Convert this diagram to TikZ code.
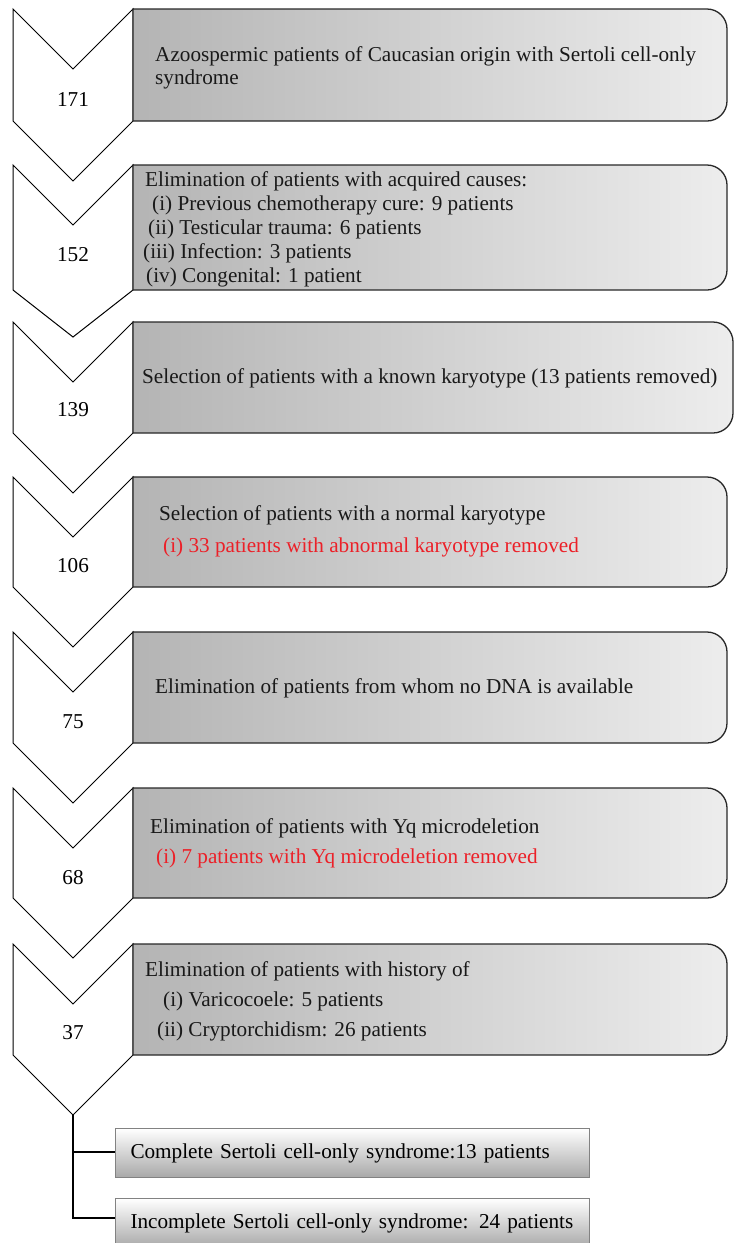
\documentclass[tikz,border=0pt]{standalone}
\usepackage{fontspec}
\setmainfont{Liberation Serif}
\definecolor{boxL}{RGB}{180,180,180}
\definecolor{boxR}{RGB}{237,237,237}
\definecolor{boxline}{RGB}{40,40,40}
\definecolor{redtxt}{RGB}{236,32,40}
\definecolor{botline}{RGB}{130,130,130}
\definecolor{botB}{RGB}{168,168,168}
\tikzset{
  chev/.style={draw=black, fill=white, line width=1pt, line join=miter},
  rowbox/.style={draw=boxline, line width=1.3pt, left color=boxL, right color=boxR},
  txt/.style={anchor=base west, inner sep=0pt, font=\fontsize{21.2}{25}\selectfont, text=black!90},
  redline/.style={txt, text=redtxt},
  num/.style={anchor=base, inner sep=0pt, font=\fontsize{21.2}{25}\selectfont},
  botbox/.style={draw=botline, line width=1pt, top color=white, bottom color=botB,
    minimum width=474pt, minimum height=49pt, anchor=north west, inner xsep=15pt,
    text width=444pt, align=left, font=\fontsize{21.2}{25}\selectfont},
  conn/.style={draw=black, line width=1.1pt}
}
\newcommand\chevshape[3]{% top, bottom, tip depth
  \draw[chev] (13,#1) -- (73,{#1+60}) -- (133,#1) -- (133,#2) -- (73,{#2+#3}) -- (13,#2) -- cycle;}
\newcommand\boxshape[3]{% top, bottom, right
  \path[rowbox] (133,#1) -- ({#3-20},#1) arc[start angle=-90,end angle=0,radius=20]
    -- (#3,{#2-20}) arc[start angle=0,end angle=90,radius=20] -- (133,#2) -- cycle;}
\begin{document}
\begin{tikzpicture}[x=1pt,y=-1pt]
\useasboundingbox (0,0) rectangle (734,1243);
% row 1
\chevshape{9}{121}{60}
\boxshape{9}{121}{727}
\node[num] (n1) at (73,106) {171};
\node[txt] (t1a) at (155,61) {Azoospermic patients of Caucasian origin with Sertoli cell-only};
\node[txt] (t1b) at (155,84) {syndrome};
% row 2
\chevshape{165}{290}{47}
\boxshape{165}{290}{727}
\node[num] (n2) at (73,261) {152};
\node[txt] (t2a) at (145,186) {Elimination of patients with acquired causes:};
\node[txt] (t2b) at (152,210) {(i) Previous chemotherapy cure: 9 patients};
\node[txt] (t2c) at (148,234) {(ii) Testicular trauma: 6 patients};
\node[txt] (t2d) at (143,258) {(iii) Infection: 3 patients};
\node[txt] (t2e) at (146,282) {(iv) Congenital: 1 patient};
% row 3
\chevshape{322}{433}{60}
\boxshape{322}{433}{733}
\node[num] (n3) at (73,416) {139};
\node[txt] (t3a) at (142,383) {Selection of patients with a known karyotype (13 patients removed)};
% row 4
\chevshape{477}{587}{60}
\boxshape{477}{587}{727}
\node[num] (n4) at (73,572) {106};
\node[txt] (t4a) at (159,520) {Selection of patients with a normal karyotype};
\node[redline] (t4b) at (163,552) {(i) 33 patients with abnormal karyotype removed};
% row 5
\chevshape{632}{743}{60}
\boxshape{632}{743}{727}
\node[num] (n5) at (73,728) {75};
\node[txt] (t5a) at (155,693) {Elimination of patients from whom no DNA is available};
% row 6
\chevshape{788}{898}{60}
\boxshape{788}{898}{727}
\node[num] (n6) at (73,884) {68};
\node[txt] (t6a) at (150,833) {Elimination of patients with Yq microdeletion};
\node[redline] (t6b) at (156,863) {(i) 7 patients with Yq microdeletion removed};
% row 7
\chevshape{944}{1055}{60}
\boxshape{944}{1055}{727}
\node[num] (n7) at (73,1039) {37};
\node[txt] (t7a) at (145,976) {Elimination of patients with history of};
\node[txt] (t7b) at (163,1006) {(i) Varicocoele: 5 patients};
\node[txt] (t7c) at (157,1036) {(ii) Cryptorchidism: 26 patients};
% bottom branches
\node[botbox] (c1) at (115,1128) {Complete Sertoli cell-only syndrome:13 patients};
\node[botbox] (c2) at (115,1198) {Incomplete Sertoli cell-only syndrome: 24 patients};
\coordinate (tip) at (73,1115);
\coordinate (j1) at (73,1152);
\coordinate (j2) at (73,1218);
\draw[conn] (tip) -- (j2) -- (j2 -| c2.west);
\draw[conn] (j1) -- (j1 -| c1.west);
\end{tikzpicture}
\end{document}
